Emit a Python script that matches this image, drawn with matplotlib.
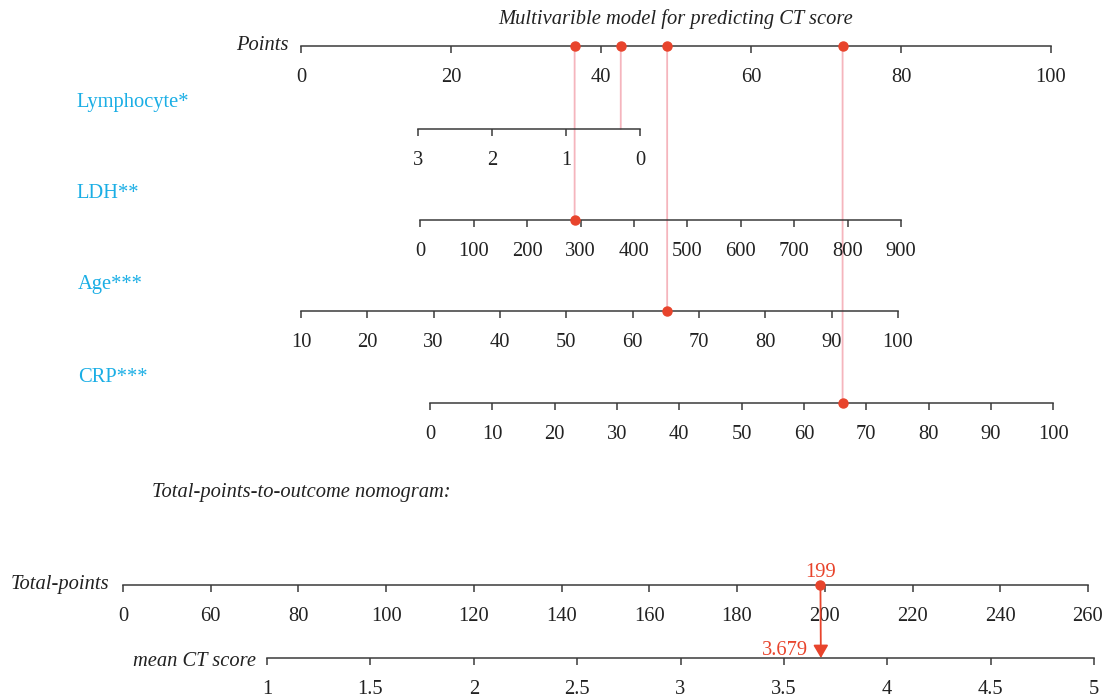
import matplotlib
matplotlib.use('Agg')
import matplotlib.pyplot as plt
from matplotlib.patches import ConnectionPatch

plt.rcParams['font.family'] = ['Liberation Serif', 'DejaVu Serif']

# ---------------- data ----------------
title = 'Multivarible model for predicting CT score'
points_ticks = [0, 20, 40, 60, 80, 100]

var_names = ['Lymphocyte*', 'LDH**', 'Age***', 'CRP***']
lym_ticks = [3, 2, 1, 0]
ldh_ticks = [0, 100, 200, 300, 400, 500, 600, 700, 800, 900]
age_ticks = [10, 20, 30, 40, 50, 60, 70, 80, 90, 100]
crp_ticks = [0, 10, 20, 30, 40, 50, 60, 70, 80, 90, 100]
var_ticks = [lym_ticks, ldh_ticks, age_ticks, crp_ticks]
# scale end values and the points they are worth
var_lo = [3, 0, 10, 0]
var_hi = [0, 900, 100, 100]
pts_lo = [15.6, 15.9, 0.0, 17.2]
pts_hi = [45.2, 80.0, 79.6, 100.3]
patient_values = [0.26, 289, 65.2, 66.2]
show_var_dot = [False, True, True, True]

total_ticks = [40, 60, 80, 100, 120, 140, 160, 180, 200, 220, 240, 260]
total_tick_labels = ['0', '60', '80', '100', '120', '140', '160', '180', '200', '220', '240', '260']
total_points = 199

ct_ticks = [1, 1.5, 2, 2.5, 3, 3.5, 4, 4.5, 5]
ct_tick_labels = ['1', '1.5', '2', '2.5', '3', '3.5', '4', '4.5', '5']
predicted_ct = 3.679

# ---------------- style ----------------
W, H = 1105, 697
BLUE = '#1aaee5'
RED = '#e8442c'
PINK = '#f5b5bd'
AXC = '#3a3a3a'
TXT = '#222222'
FS = 14.8

fig = plt.figure(figsize=(W / 100, H / 100), dpi=100)


def fx(px):
    return px / W


def fy(py):
    return 1 - py / H


def scale_axis(left_px, right_px, y_px, xlim, ticks, labels=None):
    ax = fig.add_axes([fx(left_px), fy(y_px), fx(right_px - left_px), 1 / H])
    ax.set_facecolor('none')
    for s in ['top', 'left', 'right']:
        ax.spines[s].set_visible(False)
    ax.spines['bottom'].set_color(AXC)
    ax.spines['bottom'].set_linewidth(1.1)
    ax.set_yticks([])
    ax.set_ylim(0, 1)
    ax.set_xlim(*xlim)
    ax.set_xticks(ticks)
    if labels is not None:
        ax.set_xticklabels(labels)
    else:
        ax.set_xticklabels([f'{t:g}' for t in ticks])
    ax.tick_params(axis='x', direction='out', length=5, width=1.1, color=AXC,
                   labelsize=FS, labelcolor=TXT, pad=10.5)
    return ax


# Points axis
P_LEFT, P_RIGHT, P_Y = 301, 1051, 46
ax_pts = scale_axis(P_LEFT, P_RIGHT, P_Y, (0, 100), points_ticks)


def pts_px(p):
    return P_LEFT + p / 100 * (P_RIGHT - P_LEFT)


fig.text(fx(676), fy(19), title, ha='center', va='center', fontsize=FS, style='italic', color=TXT)
fig.text(fx(289), fy(46), 'Points', ha='right', va='center', fontsize=FS, style='italic', color=TXT)

var_line_y = [129, 220, 311, 403]
var_label_y = [103, 194, 285, 377]
var_label_x = [76, 76, 78, 78]

for i, name in enumerate(var_names):
    p_min = min(pts_lo[i], pts_hi[i])
    p_max = max(pts_lo[i], pts_hi[i])
    if pts_lo[i] <= pts_hi[i]:
        xl = (var_lo[i], var_hi[i])
    else:
        xl = (var_hi[i], var_lo[i])
    ax = scale_axis(pts_px(p_min), pts_px(p_max), var_line_y[i], xl, var_ticks[i])
    fig.text(fx(var_label_x[i]), fy(var_label_y[i]), name, ha='left', va='center',
             fontsize=FS, color=BLUE)
    v = patient_values[i]
    p = pts_lo[i] + (v - var_lo[i]) / (var_hi[i] - var_lo[i]) * (pts_hi[i] - pts_lo[i])
    con = ConnectionPatch(xyA=(p, 0), coordsA=ax_pts.transData,
                          xyB=(v, 0), coordsB=ax.transData,
                          color=PINK, lw=1.3, zorder=-1)
    fig.add_artist(con)
    ax_pts.plot([p], [0], 'o', color=RED, ms=6.5, clip_on=False, zorder=5)
    if show_var_dot[i]:
        ax.plot([v], [0], 'o', color=RED, ms=6.5, clip_on=False, zorder=5)

fig.text(fx(152), fy(493), 'Total-points-to-outcome nomogram:', ha='left', va='center',
         fontsize=FS, style='italic', color=TXT)

ax_tot = scale_axis(123, 1088, 585, (40, 260), total_ticks, total_tick_labels)
fig.text(fx(109), fy(584), 'Total-points', ha='right', va='center', fontsize=FS,
         style='italic', color=TXT)

ax_ct = scale_axis(267, 1094, 658, (1, 5), ct_ticks, ct_tick_labels)
fig.text(fx(256), fy(661), 'mean CT score', ha='right', va='center', fontsize=FS,
         style='italic', color=TXT)

arrow = ConnectionPatch(xyA=(total_points, 0), coordsA=ax_tot.transData,
                        xyB=(predicted_ct, 0), coordsB=ax_ct.transData,
                        arrowstyle='-|>,head_length=0.55,head_width=0.32', mutation_scale=14,
                        color=RED, lw=1.3, shrinkA=0, shrinkB=0, zorder=6)
fig.add_artist(arrow)
ax_tot.plot([total_points], [0], 'o', color=RED, ms=6.5, clip_on=False, zorder=5)
ax_tot.annotate(f'{total_points}', xy=(total_points, 0), xytext=(0, 6),
                textcoords='offset points', ha='center', va='baseline',
                fontsize=FS, color=RED)
ax_ct.annotate(f'{predicted_ct}', xy=(predicted_ct, 0), xytext=(-9, 2),
               textcoords='offset points', ha='right', va='baseline',
               fontsize=FS, color=RED)

fig.savefig('out.png', dpi=100)
